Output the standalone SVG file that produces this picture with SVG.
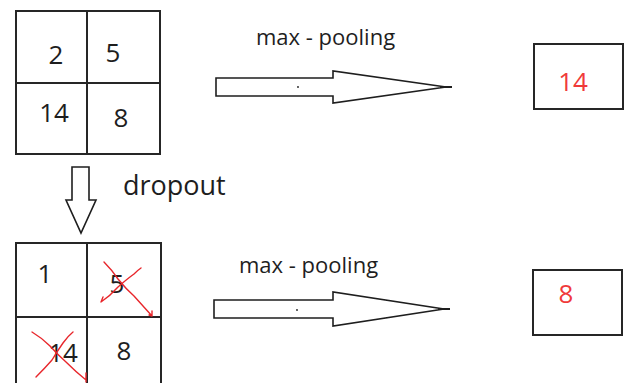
<svg xmlns="http://www.w3.org/2000/svg" width="626" height="383" viewBox="0 0 626 383">
  <style>
    .cell { fill: #ffffff; stroke: #262626; stroke-width: 2; }
    .num { font-family: "Open Sans", "Liberation Sans", sans-serif; font-size: 26px; fill: #1e1e1e; text-anchor: middle; }
    .red { fill: #f03a3a; }
    .label { font-family: "Open Sans", "Liberation Sans", sans-serif; fill: #1e1e1e; }
    .block { fill: #ffffff; stroke: #1e1e1e; stroke-width: 1.6; stroke-linejoin: miter; }
    .cross { fill: none; stroke: #e8262b; stroke-width: 1.4; stroke-linecap: round; stroke-linejoin: round; }
  </style>
  <rect width="626" height="383" fill="#ffffff"/>

  <!-- input 2x2 block -->
  <g id="grid-input">
    <rect class="cell" x="16" y="11" width="144" height="143"/>
    <line class="cell" x1="87" y1="11" x2="87" y2="154"/>
    <line class="cell" x1="16" y1="83" x2="160" y2="83"/>
    <text class="num" x="56" y="64">2</text>
    <text class="num" x="113" y="62">5</text>
    <text class="num" x="54" y="122">14</text>
    <text class="num" x="121" y="127">8</text>
  </g>

  <!-- pooled result of the input block -->
  <g id="result-top">
    <rect class="cell" x="534" y="44" width="89" height="65"/>
    <text class="num red" x="573" y="91">14</text>
  </g>

  <!-- block after dropout -->
  <g id="grid-dropout">
    <rect class="cell" x="16" y="243" width="145" height="145"/>
    <line class="cell" x1="87" y1="243" x2="87" y2="388"/>
    <line class="cell" x1="16" y1="317" x2="161" y2="317"/>
    <text class="num" x="45" y="283">1</text>
    <text class="num" x="117" y="293">5</text>
    <text class="num" x="63" y="362">14</text>
    <text class="num" x="124" y="360">8</text>
    <!-- dropped units struck out -->
    <path class="cross" d="M104 262 Q112 270 118 279 Q126 289 134 296 Q143 306 152 316 M149 315 L152 316 L152 311"/>
    <path class="cross" d="M103 297 L101 302 Q110 296 118 287 Q127 279 134 274 Q138 270 141 268"/>
    <path class="cross" d="M32 332 Q42 338 50 346 Q58 355 66 362 Q76 372 86 380 M86 373 L86 382"/>
    <path class="cross" d="M36 377 Q45 368 52 360 Q58 350 63 343 Q68 336 73 332"/>
  </g>

  <!-- pooled result after dropout -->
  <g id="result-bottom">
    <rect class="cell" x="533" y="270" width="89" height="65"/>
    <text class="num red" x="566" y="303">8</text>
  </g>

  <!-- labels -->
  <g id="labels">
    <text class="label" x="256" y="45" font-size="22">max - pooling</text>
    <text class="label" x="239" y="273" font-size="22">max - pooling</text>
    <text class="label" x="123" y="195" font-size="27">dropout</text>
  </g>

  <!-- block arrows -->
  <g id="connectors">
    <path class="block" d="M216 78 H333 V71 L446 87 L333 103 V96 H216 Z"/>
    <line x1="440" y1="87" x2="452" y2="87" stroke="#1e1e1e" stroke-width="2"/>
    <circle cx="298" cy="87" r="0.9" fill="#1e1e1e"/>

    <path class="block" d="M214 300 H333 V292 L444 309 L333 326 V318 H214 Z"/>
    <line x1="438" y1="309" x2="450" y2="309" stroke="#1e1e1e" stroke-width="2"/>
    <circle cx="297" cy="310" r="0.9" fill="#1e1e1e"/>

    <path class="block" d="M72 167 H89 V200 H96 L81 233 L66 200 H72 Z"/>
  </g>
</svg>
